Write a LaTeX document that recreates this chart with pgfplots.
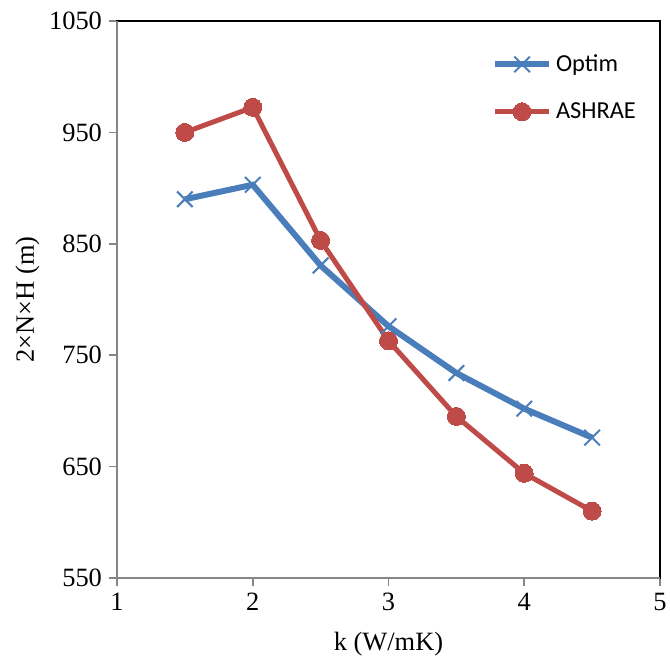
\documentclass[border=0pt]{standalone}
\usepackage{fontspec}
\setmainfont{Liberation Serif}
\newfontfamily\calibri{Carlito}
\usepackage{pgfplots}
\pgfplotsset{compat=1.18}
\definecolor{optblue}{HTML}{4A7EBB}
\definecolor{ashred}{HTML}{BE4B48}
\definecolor{axgray}{HTML}{868686}
\begin{document}
\begin{tikzpicture}
\useasboundingbox (-58.5pt,-45.5pt) rectangle (276.5pt,289pt);
\begin{axis}[
  at={(0,0)}, anchor=origin,
  scale only axis,
  width=271.5pt, height=278.5pt,
  xmin=1, xmax=5, ymin=550, ymax=1050,
  xtick={1,2,3,4,5}, ytick={550,650,750,850,950,1050},
  xtick pos=left, ytick pos=left,
  tick align=outside,
  major tick length=4pt,
  tick style={axgray, line width=0.8pt},
  axis line style={black, line width=0.6pt},
  /pgf/number format/assume math mode=true,
  /pgf/number format/1000 sep={},
  ticklabel style={font=\fontsize{13.2}{15}\selectfont},
  xlabel={k (W/mK)}, ylabel={2×N×H (m)},
  label style={font=\fontsize{13.2}{15}\selectfont},
  xlabel style={yshift=-4pt},
  ylabel style={yshift=-2pt},
  legend style={draw=none, fill=none, at={(rel axis cs:0.69,0.955)}, anchor=north west,
    font=\calibri\fontsize{12.2}{14}\selectfont, row sep=10pt, inner xsep=0pt},
  legend cell align=left,
  legend image code/.code={
    \draw[#1, mark=none] (0pt,0pt) -- (27pt,0pt);
    \draw[#1] plot coordinates {(13.5pt,0pt)};
  },
  clip=false,
]
\addplot[optblue, line width=3pt, mark=x, mark size=5.5pt,
  mark options={line width=1pt, solid}] coordinates {
  (1.5,890) (2,903) (2.5,830.5) (3,776) (3.5,734) (4,702) (4.5,676)};
\addlegendentry{Optim}
\addplot[ashred, line width=2.5pt, mark=*, mark size=4.5pt,
  mark options={ashred, line width=0pt}] coordinates {
  (1.5,950) (2,972.5) (2.5,853) (3,763) (3.5,695) (4,644) (4.5,610)};
\addlegendentry{ASHRAE}
\draw[axgray, line width=1pt] (rel axis cs:0,1) -- (rel axis cs:0,0) -- (rel axis cs:1,0);
\end{axis}
\end{tikzpicture}
\end{document}
